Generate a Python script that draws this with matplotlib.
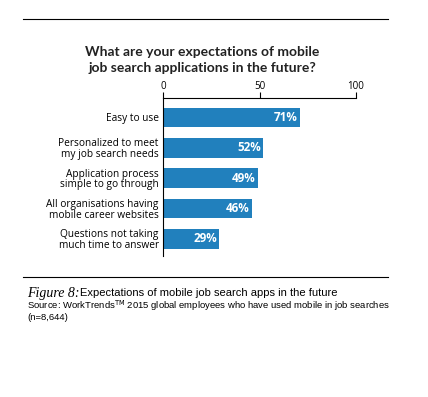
import matplotlib.pyplot as plt
import numpy as np

categories = [
    "Easy to use",
    "Personalized to meet\nmy job search needs",
    "Application process\nsimple to go through",
    "All organisations having\nmobile career websites",
    "Questions not taking\nmuch time to answer",
]
values = [71, 52, 49, 46, 29]
ticks = [0, 50, 100]

title = "What are your expectations of mobile\njob search applications in the future?"
blue = "#2180bd"

fig = plt.figure(figsize=(4.28, 3.97), dpi=100)
ax = fig.add_axes([163 / 428, 1 - 256 / 397, 193 / 428, 158 / 397])

y = np.arange(len(values))
ax.barh(y, values, height=0.64, color=blue)
for yi, v in zip(y, values):
    ax.text(v - 1.0, yi, f"{v}%", color="white", fontweight="bold",
            fontsize=8.4, ha="right", va="center", family="Open Sans")

ax.set_xlim(0, 100)
ax.set_ylim(4.56, -0.64)
ax.set_yticks(y)
ax.set_yticklabels(categories, fontsize=7.3, family="Open Sans", linespacing=0.95)
ax.tick_params(axis="y", length=0, pad=3)

ax.xaxis.tick_top()
ax.set_xticks(ticks)
ax.set_xticklabels([str(t) for t in ticks], fontsize=7, family="Open Sans")
ax.tick_params(axis="x", direction="out", length=4, width=0.8, pad=0)

for s in ["right", "bottom"]:
    ax.spines[s].set_visible(False)
ax.spines["top"].set_linewidth(0.8)
ax.spines["left"].set_linewidth(0.8)

fig.text(202 / 428, 1 - 60 / 397, title, ha="center", va="center",
         fontsize=10, fontweight="bold", family="Lato", color="#222222",
         linespacing=1.3)

# horizontal rules
fig.add_artist(plt.Line2D([23 / 428, 388 / 428], [1 - 19 / 397] * 2, color="black", lw=0.8))
fig.add_artist(plt.Line2D([23 / 428, 388 / 428], [1 - 277 / 397] * 2, color="black", lw=0.8))

# caption
fig.text(27 / 428, 1 - 293 / 397, "Figure 8:", ha="left", va="center",
         fontsize=10, style="italic", family="Liberation Serif")
fig.text(80 / 428, 1 - 293 / 397, "Expectations of mobile job search apps in the future",
         ha="left", va="center", fontsize=8, family="Liberation Sans")
fig.text(27 / 428, 1 - 306 / 397,
         "Source: WorkTrends$^{\\mathrm{TM}}$ 2015 global employees who have used mobile in job searches",
         ha="left", va="center", fontsize=6.8, family="Liberation Sans")
fig.text(27 / 428, 1 - 318 / 397, "(n=8,644)", ha="left", va="center",
         fontsize=6.8, family="Liberation Sans")

fig.savefig("out.png", dpi=100)
